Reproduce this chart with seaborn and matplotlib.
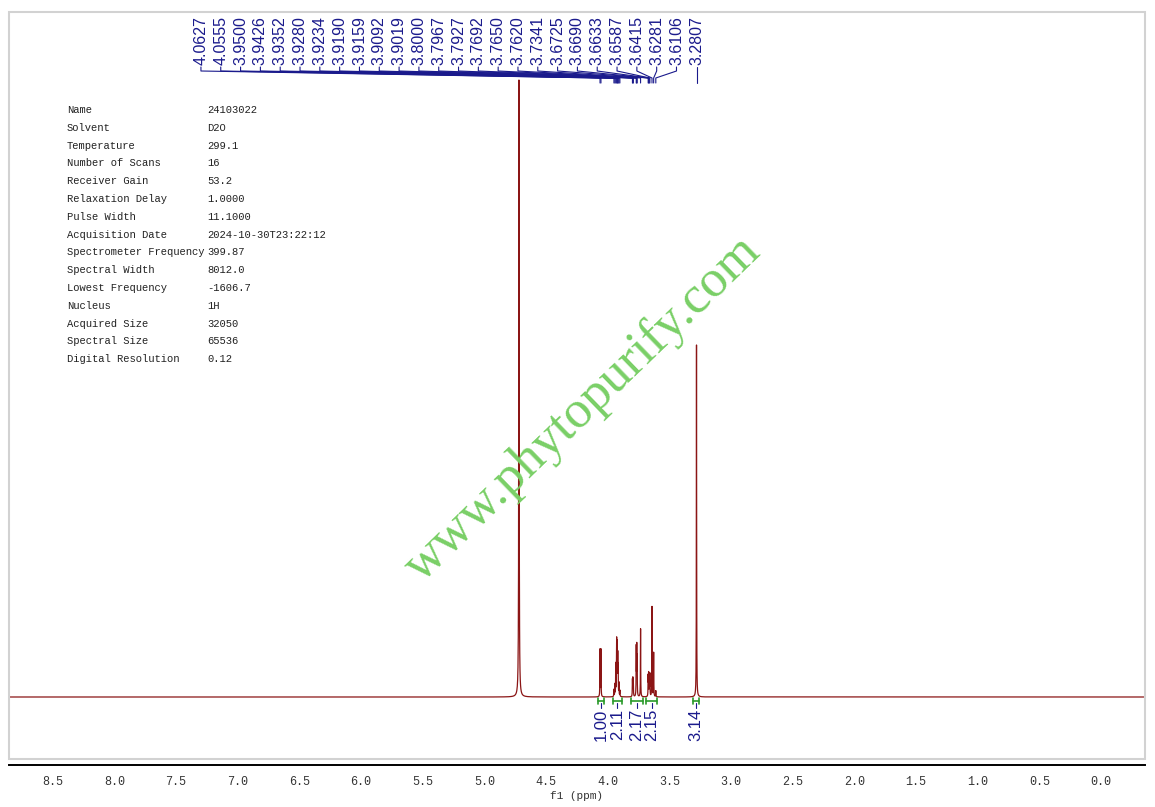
import numpy as np
import matplotlib
matplotlib.use("Agg")
import matplotlib.pyplot as plt
from matplotlib.patches import Rectangle
from matplotlib.ticker import MultipleLocator, FormatStrFormatter
import seaborn as sns

# Peak list (ppm, height in arbitrary units)
peak_ppm = [4.0627, 4.0555, 3.9500, 3.9426, 3.9352, 3.9280, 3.9234, 3.9190,
            3.9159, 3.9092, 3.9019, 3.8000, 3.7967, 3.7927, 3.7692, 3.7650,
            3.7620, 3.7341, 3.6725, 3.6690, 3.6633, 3.6587, 3.6415, 3.6281,
            3.6106, 3.2807]
peak_height = [47, 47, 7, 12, 32, 55, 50, 38,
               27, 13, 6, 16, 17, 13, 48, 46,
               35, 68, 20, 22, 20, 22, 90, 44,
               6, 352]

# HDO solvent signal (not labelled)
solvent_ppm = 4.72
solvent_height = 617

# Integrals
integral_from = [4.082, 3.960, 3.814, 3.693, 3.307]
integral_to = [4.031, 3.885, 3.717, 3.598, 3.258]
integral_values = ["1.00", "2.11", "2.17", "2.15", "3.14"]

# Acquisition parameters
param_names = ["Name", "Solvent", "Temperature", "Number of Scans", "Receiver Gain",
               "Relaxation Delay", "Pulse Width", "Acquisition Date",
               "Spectrometer Frequency", "Spectral Width", "Lowest Frequency",
               "Nucleus", "Acquired Size", "Spectral Size", "Digital Resolution"]
param_values = ["24103022", "D2O", "299.1", "16", "53.2", "1.0000", "11.1000",
                "2024-10-30T23:22:12", "399.87", "8012.0", "-1606.7", "1H",
                "32050", "65536", "0.12"]

RED = "#8b1515"
BLUE = "#1a1a8c"
GREEN = "#2a9a2a"

sns.set_style("white")
plt.rcParams["font.family"] = ["Liberation Mono", "DejaVu Sans"]

W, H = 1155, 807
fig = plt.figure(figsize=(W / 100, H / 100), dpi=100)
ax = fig.add_axes([9 / W, 1 - 765 / H, 1136 / W, 753 / H])
ax.patch.set_visible(False)

# build the spectrum from the peak list (Lorentzian lines)
grid = np.union1d(np.arange(-0.355, 8.854, 0.0005), peak_ppm + [solvent_ppm])
hw, sw = 0.0012, 0.0018
spec = np.zeros_like(grid)
for p, h in zip(peak_ppm, peak_height):
    spec += h * hw ** 2 / (hw ** 2 + (grid - p) ** 2)
spec += solvent_height * sw ** 2 / (sw ** 2 + (grid - solvent_ppm) ** 2)

sns.lineplot(x=grid, y=spec, ax=ax, color=RED, lw=0.9, estimator=None, sort=False)

ax.set_xlim(8.854, -0.355)
ax.set_ylim(-68, 685)

# peak labels on top, with connector lines
label_x = list(np.linspace(7.298, 3.443, len(peak_ppm) - 1)) + [peak_ppm[-1]]
for lx, p in zip(label_x, peak_ppm):
    ax.text(lx, 632, f"{p:.4f}", rotation=90, ha="center", va="bottom",
            fontsize=11.5, color=BLUE, family="Liberation Sans")
    ax.plot([lx, lx, p, p], [630, 626, 619, 614], color=BLUE, lw=0.8)

# integral brackets and values
for a, b, v in zip(integral_from, integral_to, integral_values):
    ax.plot([a, b], [-4, -4], color=GREEN, lw=1.2)
    ax.plot([a, a], [-1, -7], color=GREEN, lw=1.2)
    ax.plot([b, b], [-1, -7], color=GREEN, lw=1.2)
    c = (a + b) / 2
    ax.plot([c, c], [-6, -11], color=BLUE, lw=0.8)
    ax.text(c, -12, v, rotation=90, ha="center", va="top",
            fontsize=12, color=BLUE, family="Liberation Sans")

# axes styling
for s in ["top", "left", "right"]:
    ax.spines[s].set_visible(False)
ax.spines["bottom"].set_color("black")
ax.spines["bottom"].set_linewidth(1.4)
ax.set_yticks([])
ax.xaxis.set_major_locator(MultipleLocator(0.5))
ax.xaxis.set_minor_locator(MultipleLocator(0.25))
ax.xaxis.set_major_formatter(FormatStrFormatter("%.1f"))
ax.tick_params(axis="x", which="major", direction="out", length=7, width=1.2,
               colors="black", labelcolor="#333333", labelsize=8.5, pad=1)
ax.tick_params(axis="x", which="minor", direction="out", length=4, width=1.2,
               colors="black")
ax.set_xlabel("f1 (ppm)", fontsize=8, color="#333333", labelpad=2)

# light frame around the plot
fig.patches.append(Rectangle((9 / W, 1 - 759 / H), 1136 / W, 747 / H,
                             transform=fig.transFigure, fill=False,
                             ec="#d2d2d2", lw=1.5))

# parameter table
for i, (n, v) in enumerate(zip(param_names, param_values)):
    y = 1 - (110 + i * 17.8) / H
    fig.text(67 / W, y, n, fontsize=7.6, color="#222222", va="center")
    fig.text(207 / W, y, v, fontsize=7.6, color="#222222", va="center")

# watermark
fig.text(583 / W, 1 - 409 / H, "www.phytopurify.com", rotation=44,
         rotation_mode="anchor", ha="center", va="center", fontsize=38,
         family="Liberation Serif", color="#79cf66")

fig.savefig("out.png", dpi=100)
